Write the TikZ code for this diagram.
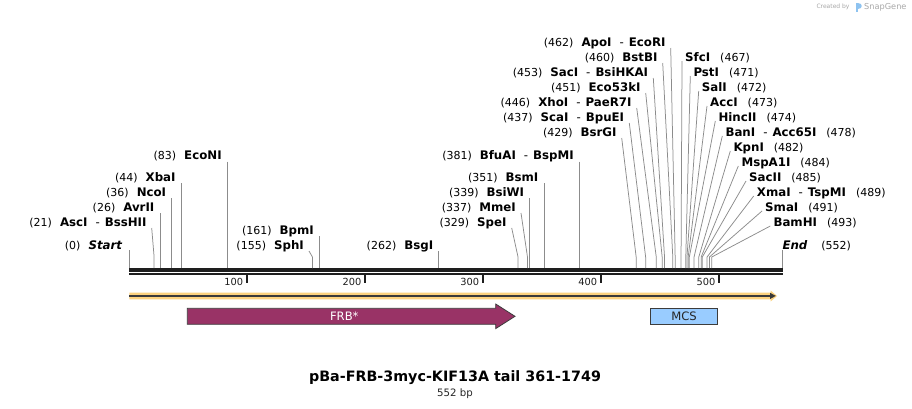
\documentclass[tikz,border=0pt]{standalone}
\usepackage{fontspec}
\setmainfont{DejaVu Sans}
\usetikzlibrary{calc}
\definecolor{cutgray}{HTML}{8C8C8C}
\definecolor{rulerblack}{HTML}{1E1E1E}
\definecolor{bandyellow}{HTML}{FCD27F}
\definecolor{banddark}{HTML}{3A3A3A}
\definecolor{frbfill}{HTML}{993366}
\definecolor{mcsfill}{HTML}{99CCFF}
\definecolor{outlinegray}{HTML}{3C3C3C}
\definecolor{wmgray}{HTML}{A8A8A8}
\definecolor{wmblue}{HTML}{8EC3F0}
\newcommand\numf{\fontsize{11}{12}\selectfont}
\newcommand\namef{\fontsize{11.8}{12}\selectfont\bfseries}
\newcommand\enzL[2]{{\numf(#1)}\hspace{8pt}{\namef #2}}
\newcommand\enzR[2]{{\namef #2}\hspace{10pt}{\numf(#1)}}
\newcommand\dsh{\hspace{8pt}{\mdseries -}\hspace{5pt}}
\newcommand\sitex[1]{129.3+1.1815*#1}
% vertical connector, label on the left
\newcommand\vsiteL[4]{%
  \coordinate (s#1) at ({\sitex{#2}},268);
  \node[lab,anchor=east] (n#1) at ({\sitex{#2}-5.5},#3) {#4};
  \draw[cut] ($(n#1.east)+(5.5,6)$) -- (s#1);}
% slanted connector, label on the left
\newcommand\ssiteL[5]{%
  \coordinate (s#1) at ({\sitex{#2}},268);
  \node[lab,anchor=east] (n#1) at (#4,#3) {#5};
  \draw[cut] ($(n#1.east)+(5,6)$) -- ($(s#1)+(0,-11)$) -- (s#1);}
% slanted connector, label on the right
\newcommand\ssiteR[5]{%
  \coordinate (s#1) at ({\sitex{#2}},268);
  \node[lab,anchor=west] (n#1) at (#4,#3) {#5};
  \draw[cut] ($(n#1.west)+(-3,4)$) -- ($(s#1)+(0,-11)$) -- (s#1);}
\begin{document}
\begin{tikzpicture}[x=1pt,y=-1pt,
  lab/.style={inner sep=0pt,text height=8.4pt,text depth=0pt,text=black},
  cut/.style={draw=cutgray,line width=0.75pt},
  ticklab/.style={inner sep=0pt,text height=7pt,text depth=0pt,font=\fontsize{9.8}{11}\selectfont,text=rulerblack}]
\useasboundingbox (0,0) rectangle (912,408);
\fill[white] (0,0) rectangle (912,408);

% watermark
\node[inner sep=0pt,text=wmgray,font=\fontsize{6}{7}\selectfont] (wm1) at (833,7) {Created by};
\fill[wmblue] (855.5,3) rectangle (858,11.5);
\fill[wmblue] (858,3) .. controls (862.5,3) and (862.5,9) .. (858,9) -- cycle;
\node[inner sep=0pt,text=wmgray,font=\fontsize{8.2}{9}\selectfont,anchor=west] (wm2) at (864,7.5) {SnapGene};

% ruler
\draw[rulerblack,line width=3.2pt] (129.3,270) -- (782.6,270);
\draw[rulerblack,line width=2.2pt] (129.3,274.1) -- (782.6,274.1);
\foreach \t/\xx in {100/246.7,200/365,300/482.7,400/600.7,500/719}{
  \draw[rulerblack,line width=2pt] (\xx,274) -- (\xx,282.7);
  \node[ticklab,anchor=east] (t\t) at (\xx-3.5,282.3) {\t};
}

% start / end
\coordinate (sStart) at (129.3,268);
\node[lab,anchor=east] (nStart) at (122.3,245) {{\numf(0)}\hspace{8pt}{\namef\itshape Start}};
\draw[cut] ($(nStart.east)+(7,5)$) -- (sStart);
\coordinate (sEnd) at (782.3,268);
\node[lab,anchor=west] (nEnd) at (782.3,245) {{\namef\itshape End}\hspace{14pt}{\numf(552)}};
\draw[cut] ($(nEnd.west)+(0,5)$) -- (sEnd);

% left-hand group
\ssiteL{AscI}{21}{222}{146.7}{\enzL{21}{AscI\dsh BssHII}}
\vsiteL{AvrII}{26}{207}{\enzL{26}{AvrII}}
\vsiteL{NcoI}{36}{192}{\enzL{36}{NcoI}}
\vsiteL{XbaI}{44}{177}{\enzL{44}{XbaI}}
\vsiteL{EcoNI}{83}{155.7}{\enzL{83}{EcoNI}}
\vsiteL{BpmI}{161}{230}{\enzL{161}{BpmI}}
\ssiteL{SphI}{155}{245}{304}{\enzL{155}{SphI}}
\vsiteL{BsgI}{262}{245}{\enzL{262}{BsgI}}
\ssiteL{SpeI}{329}{222}{506.7}{\enzL{329}{SpeI}}
\ssiteL{MmeI}{337}{207}{516}{\enzL{337}{MmeI}}
\vsiteL{BsiWI}{339}{192}{\enzL{339}{BsiWI}}
\vsiteL{BsmI}{351}{177}{\enzL{351}{BsmI}}
\vsiteL{BfuAI}{381}{155.7}{\enzL{381}{BfuAI\dsh BspMI}}

% upper cluster, left side
\ssiteL{BsrGI}{429}{132}{616.7}{\enzL{429}{BsrGI}}
\ssiteL{ScaI}{437}{117}{624.3}{\enzL{437}{ScaI\dsh BpuEI}}
\ssiteL{XhoI}{446}{102}{631.7}{\enzL{446}{XhoI\dsh PaeR7I}}
\ssiteL{EcoFtk}{451}{87}{640.7}{\enzL{451}{Eco53kI}}
\ssiteL{SacI}{453}{72}{648.3}{\enzL{453}{SacI\dsh BsiHKAI}}
\ssiteL{BstBI}{460}{57}{657.7}{\enzL{460}{BstBI}}
\ssiteL{ApoI}{462}{42}{665.7}{\enzL{462}{ApoI\dsh EcoRI}}

% upper cluster, right side
\ssiteR{SfcI}{467}{57}{685}{\enzR{467}{SfcI}}
\ssiteR{PstI}{471}{72}{693.3}{\enzR{471}{PstI}}
\ssiteR{SalI}{472}{87}{701.7}{\enzR{472}{SalI}}
\ssiteR{AccI}{473}{102}{710}{\enzR{473}{AccI}}
\ssiteR{HincII}{474}{117}{718.3}{\enzR{474}{HincII}}
\ssiteR{BanI}{478}{132}{725.3}{\enzR{478}{BanI\dsh Acc65I}}
\ssiteR{KpnI}{482}{147}{733.3}{\enzR{482}{KpnI}}
\ssiteR{MspAI}{484}{162}{741.3}{\enzR{484}{MspA1I}}
\ssiteR{SacII}{485}{177}{749}{\enzR{485}{SacII}}
\ssiteR{XmaI}{489}{192}{756.7}{\enzR{489}{XmaI\dsh TspMI}}
\ssiteR{SmaI}{491}{207}{765}{\enzR{491}{SmaI}}
\ssiteR{BamHI}{493}{222}{773.3}{\enzR{493}{BamHI}}

% whole-sequence feature arrow
\fill[bandyellow] (129.3,292.7) -- (770.7,292.7) -- (770.7,290.6) -- (777,296) -- (770.7,301.4) -- (770.7,299.3) -- (129.3,299.3) -- cycle;
\draw[banddark,line width=1.8pt] (129.3,295.9) -- (771,295.9);
\fill[banddark] (770.2,292.9) -- (775.8,295.9) -- (770.2,298.9) -- cycle;

% FRB* feature
\draw[outlinegray,line width=0.8pt,fill=frbfill] (187.3,308.3) -- (495.7,308.3) -- (495.7,304) -- (515,316.3) -- (495.7,328.6) -- (495.7,324.3) -- (187.3,324.3) -- cycle;
\node[inner sep=0pt,text=white,font=\fontsize{11.6}{12}\selectfont] (frb) at (344.3,316.3) {FRB*};

% MCS feature
\node[draw=outlinegray,line width=0.8pt,fill=mcsfill,minimum width=67.4pt,minimum height=16pt,inner sep=0pt,font=\fontsize{11.6}{12}\selectfont,text=black!85] (mcs) at (684,316.3) {MCS};

% title
\node[inner sep=0pt,font=\fontsize{14.3}{16}\selectfont\bfseries,text=black] (title) at (455,377.5) {pBa-FRB-3myc-KIF13A tail 361-1749};
\node[inner sep=0pt,font=\fontsize{10.2}{12}\selectfont,text=black!85] (size) at (455,393.3) {552 bp};
\end{tikzpicture}
\end{document}
